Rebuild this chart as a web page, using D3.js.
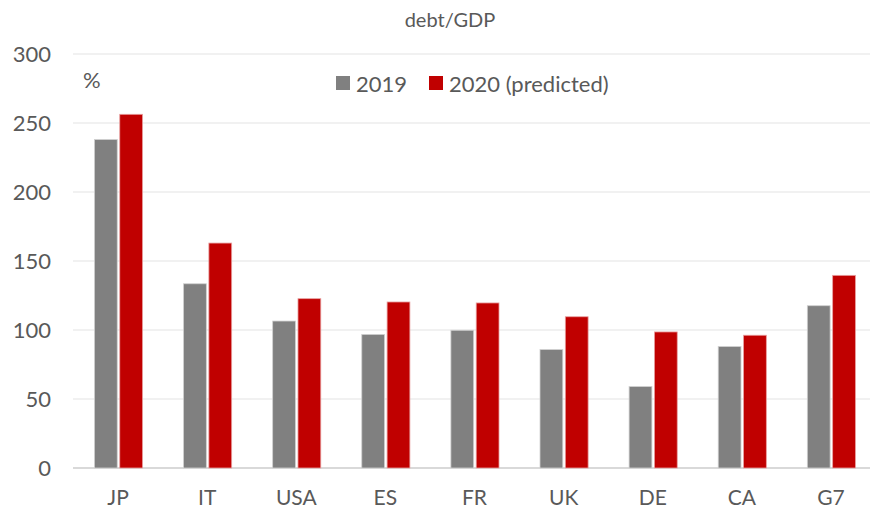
<!DOCTYPE html>
<html>
<head>
<meta charset="utf-8">
<script src="https://cdn.jsdelivr.net/npm/d3@7"></script>
<style>
  body { margin: 0; background: #fff; }
  text { font-family: Lato, "Open Sans", sans-serif; fill: #595959; }
</style>
</head>
<body>
<div id="chart"></div>
<script>
const categories = ["JP", "IT", "USA", "ES", "FR", "UK", "DE", "CA", "G7"];
const values2019 = [238, 133.5, 106.5, 96.8, 99.8, 85.8, 59, 88, 117.6];
const values2020 = [256.3, 163, 122.7, 120.3, 119.6, 109.6, 98.6, 96.2, 139.6];
const seriesNames = ["2019", "2020 (predicted)"];
const yTicks = [0, 50, 100, 150, 200, 250, 300];

let width = 870;
let height = 510;
const colors = ["#808080", "#c00000"];

const svg = d3.select("#chart")
  .append("svg")
  .attr("width", width)
  .attr("height", height);

// scales
const x = d3.scaleBand()
  .domain(categories)
  .range([73.5, 875.5])
  .paddingInner(0)
  .paddingOuter(0);

const x1 = d3.scaleBand()
  .domain(seriesNames)
  .range([x.bandwidth() * 0.235, x.bandwidth() * 0.775])
  .paddingInner(0.1);

const y = d3.scaleLinear()
  .domain([0, 300])
  .range([468, 54]);

// gridlines
svg.append("g")
  .selectAll("line")
  .data(yTicks)
  .enter()
  .append("line")
  .attr("x1", 73)
  .attr("x2", width)
  .attr("y1", d => y(d))
  .attr("y2", d => y(d))
  .attr("stroke", d => d === 0 ? "#d9d9d9" : "#ececec")
  .attr("stroke-width", d => d === 0 ? 2 : 1.5);

// y axis labels
const yAxis = svg.append("g")
  .attr("transform", "translate(51,0)")
  .call(d3.axisLeft(y).tickValues(yTicks).tickSize(0).tickPadding(0));
yAxis.select(".domain").remove();
yAxis.selectAll("text")
  .attr("font-size", 22)
  .attr("fill", "#595959")
  .style("font-family", "Lato, sans-serif");

// x axis labels
const xAxis = svg.append("g")
  .attr("transform", "translate(0,505)")
  .call(d3.axisBottom(x).tickSize(0).tickPadding(0));
xAxis.select(".domain").remove();
xAxis.selectAll("text")
  .attr("font-size", 21)
  .attr("y", 0)
  .attr("dy", 0)
  .attr("fill", "#595959")
  .style("font-family", "Lato, sans-serif");

// bars
const data = categories.map((c, i) => ({ cat: c, vals: [values2019[i], values2020[i]] }));
const groups = svg.append("g")
  .selectAll("g")
  .data(data)
  .enter()
  .append("g")
  .attr("transform", d => `translate(${x(d.cat)},0)`);

groups.selectAll("rect")
  .data(d => d.vals.map((v, j) => ({ name: seriesNames[j], v: v, j: j })))
  .enter()
  .append("rect")
  .attr("x", d => x1(d.name))
  .attr("width", x1.bandwidth())
  .attr("y", d => y(d.v))
  .attr("height", d => y(0) - y(d.v))
  .attr("fill", d => colors[d.j])
  .attr("stroke", d => d.j === 0 ? "#d0d0d0" : "#e8a0a0")
  .attr("stroke-width", 0.8);

// title
svg.append("text")
  .attr("x", 450)
  .attr("y", 27)
  .attr("text-anchor", "middle")
  .attr("font-size", 20)
  .text("debt/GDP");

// unit
svg.append("text")
  .attr("x", 83)
  .attr("y", 88)
  .attr("font-size", 22)
  .text("%");

// legend
const legendX = [336, 429];
seriesNames.forEach((s, i) => {
  svg.append("rect")
    .attr("x", legendX[i])
    .attr("y", 76)
    .attr("width", 14)
    .attr("height", 14)
    .attr("fill", colors[i]);
  svg.append("text")
    .attr("x", legendX[i] + 20)
    .attr("y", 92)
    .attr("font-size", 22)
    .text(s);
});
</script>
</body>
</html>
